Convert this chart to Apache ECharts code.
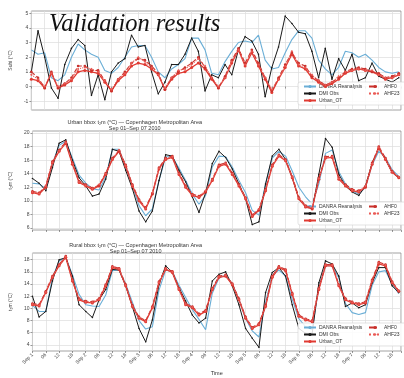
<!DOCTYPE html>
<html>
<head>
<meta charset="utf-8">
<script src="https://cdn.jsdelivr.net/npm/echarts@6/dist/echarts.min.js"></script>
<style>
html, body { margin: 0; padding: 0; background: #fff; }
#main { width: 404px; height: 378px; }
</style>
</head>
<body>
<div id="main"></div>
<script>
// hours since Sep 1 00:00 (3-hourly)
var hours = [0, 3, 6, 9, 12, 15, 18, 21, 24, 27, 30, 33, 36, 39, 42, 45, 48, 51, 54, 57, 60, 63, 66, 69,
    72, 75, 78, 81, 84, 87, 90, 93, 96, 99, 102, 105, 108, 111, 114, 117, 120, 123, 126, 129, 132, 135, 138, 141,
    144, 147, 150, 153, 156, 159, 162, 165];
var dayLabels = ['Sep 1', 'Sep 2', 'Sep 3', 'Sep 4', 'Sep 5', 'Sep 6', 'Sep 7'];
var hourLabels = { 6: '06', 12: '12', 18: '18' };
var seriesNames = ['DANRA Reanalysis', 'DMI Obs', 'Urban_OT', 'AHF0', 'AHF23'];

// panel 1: difference
var danra1 = [2.5, 2.2, 2.3, 0.6, 0.4, 0.8, 2.0, 2.9,  2.5, 2.2, 2.0, 1.1, 0.9, 1.3, 2.0, 2.7,
    2.8, 2.8, 2.0, 1.0, 0.6, 1.2, 1.5, 1.9,  3.3, 3.3, 2.5, 0.9, 0.8, 1.7, 2.4, 3.0,
    3.1, 3.0, 3.5, 1.8, 1.2, 1.3, 2.3, 3.2,  3.8, 3.8, 3.3, 1.8, 1.2, 0.8, 1.3, 2.4,
    2.3, 2.0, 2.2, 1.8, 1.3, 1.0, 0.9, 1.0];
var obs1 = [1.0, 3.8, 2.0, -0.1, -0.8, 1.5, 2.6, 3.2,  2.8, -0.6, 0.8, -0.9, 1.0, 1.6, 1.9, 3.5,
    2.7, 2.8, 1.0, -0.5, 0.3, 1.5, 1.5, 2.2,  3.3, 2.4, -0.3, 0.8, 0.6, 1.5, 0.8, 2.5,
    3.4, 3.1, 2.2, -0.7, 1.3, 2.7, 4.8, 4.3,  3.7, 3.6, 2.4, 0.6, 2.6, 0.5, 1.9, 1.1,
    2.2, 0.4, 0.6, 1.6, 0.7, 0.5, 0.3, 0.6];
var urban1 = [0.5, 0.4, -0.1, 0.9, -0.1, 0.1, 0.4, 1.0,  1.1, 1.0, 0.9, 0.3, -0.3, 0.4, 0.8, 1.4,
    1.6, 1.5, 1.2, 0.8, -0.2, 0.5, 0.9, 1.0,  1.3, 1.6, 1.2, 0.5, -0.1, 0.6, 1.6, 2.5,
    1.4, 2.3, 1.4, 0.5, -0.4, 0.5, 1.3, 2.2,  1.4, 1.2, 0.6, 0.3, 0.0, 0.2, 0.5, 0.9,
    1.1, 1.2, 1.1, 1.0, 0.8, 0.5, 0.6, 0.8];
var ahf0_1 = [1.0, 0.6, -0.1, 1.0, -0.1, 0.2, 0.6, 1.4,  1.4, 1.1, 1.1, 0.4, -0.3, 0.5, 1.0, 1.6,
    1.9, 1.8, 1.4, 0.9, -0.2, 0.6, 1.0, 1.3,  1.6, 2.0, 1.3, 0.6, -0.1, 0.7, 1.8, 2.6,
    1.6, 2.5, 1.6, 0.6, -0.3, 0.6, 1.5, 2.3,  1.6, 1.4, 0.7, 0.4, 0.1, 0.3, 0.6, 1.0,
    1.2, 1.3, 1.2, 1.0, 0.9, 0.6, 0.7, 0.9];
var ahf23_1 = [0.8, 0.5, 0.0, 0.9, 0.0, 0.2, 0.5, 1.2,  1.3, 1.2, 1.0, 0.4, -0.2, 0.5, 0.9, 1.6,
    2.0, 1.7, 1.3, 0.8, -0.1, 0.6, 1.1, 1.2,  1.5, 1.9, 1.4, 0.6, 0.0, 0.6, 1.7, 2.5,
    1.5, 2.4, 1.5, 0.6, -0.2, 0.5, 1.4, 2.4,  1.5, 1.3, 0.8, 0.4, 0.1, 0.3, 0.7, 1.0,
    1.1, 1.2, 1.1, 1.1, 0.8, 0.6, 0.6, 0.8];

// panel 2: urban bbox t2m
var danra2 = [12.6, 12.5, 11.8, 15.5, 18.2, 18.8, 16.3, 13.8,  12.6, 11.8, 11.6, 13.5, 17.6, 17.6, 15.0, 12.2,
    9.3, 7.8, 8.8, 13.0, 16.5, 16.5, 14.8, 13.0,  11.0, 9.5, 10.8, 15.0, 16.6, 16.5, 15.0, 13.0,
    11.2, 8.6, 7.9, 12.5, 16.3, 17.3, 16.6, 14.4,  12.0, 10.6, 9.5, 12.5, 17.0, 17.5, 14.3, 12.5,
    11.5, 11.0, 12.0, 15.3, 17.3, 16.4, 14.6, 13.6];
var obs2 = [13.3, 12.6, 11.5, 14.9, 18.5, 19.0, 16.0, 13.4,  12.2, 10.7, 11.0, 13.2, 17.6, 17.3, 14.5, 11.8,
    8.5, 6.9, 8.5, 13.0, 16.8, 16.6, 14.5, 12.8,  10.6, 8.3, 11.2, 15.5, 17.3, 16.4, 14.7, 12.5,
    10.3, 6.5, 6.9, 12.5, 16.6, 17.6, 16.1, 13.4,  10.3, 9.0, 8.8, 13.9, 19.2, 17.9, 13.9, 12.2,
    11.3, 10.8, 12.2, 15.6, 17.8, 16.1, 14.2, 13.4];
var urban2 = [11.2, 11.0, 12.0, 15.6, 17.3, 18.5, 15.4, 12.7,  12.2, 11.7, 12.2, 13.9, 16.1, 17.3, 15.1, 12.2,
    10.0, 8.8, 11.0, 14.7, 16.1, 16.4, 13.9, 12.0,  10.8, 10.5, 11.3, 13.0, 15.1, 15.4, 13.9, 12.2,
    10.3, 7.7, 8.6, 11.5, 15.1, 16.6, 15.9, 13.4,  10.3, 9.1, 8.8, 13.2, 16.3, 16.4, 13.2, 12.2,
    11.5, 11.3, 12.0, 15.4, 17.8, 16.1, 14.2, 13.4];
var ahf0_2 = [11.4, 11.2, 12.1, 15.8, 17.5, 18.7, 15.6, 12.9,  12.4, 11.9, 12.3, 14.1, 16.3, 17.4, 15.3, 12.4,
    10.2, 9.0, 11.1, 14.9, 16.3, 16.6, 14.1, 12.2,  11.0, 10.7, 11.4, 13.2, 15.3, 15.6, 14.1, 12.4,
    10.5, 7.9, 8.7, 11.7, 15.3, 16.8, 16.1, 13.6,  10.5, 9.3, 8.9, 13.4, 16.5, 16.6, 13.4, 12.4,
    11.7, 11.5, 12.1, 15.6, 18.0, 16.3, 14.4, 13.5];
var ahf23_2 = [11.3, 11.1, 12.2, 15.7, 17.4, 18.6, 15.5, 12.8,  12.3, 11.8, 12.4, 14.0, 16.2, 17.5, 15.2, 12.3,
    10.1, 8.9, 11.2, 14.8, 16.2, 16.5, 14.0, 12.1,  10.9, 10.6, 11.5, 13.1, 15.2, 15.5, 14.0, 12.3,
    10.4, 7.8, 8.8, 11.6, 15.2, 16.7, 16.0, 13.5,  10.4, 9.2, 9.0, 13.3, 16.4, 16.5, 13.3, 12.3,
    11.6, 11.4, 12.2, 15.5, 17.9, 16.2, 14.3, 13.5];

// panel 3: rural bbox t2m
var danra3 = [10.5, 9.5, 9.5, 15.0, 17.8, 18.4, 15.5, 12.3,  10.6, 10.4, 10.3, 12.2, 16.2, 16.3, 14.0, 11.0,
    8.0, 6.6, 7.0, 13.0, 16.3, 16.0, 13.8, 11.8,  9.8, 8.2, 6.5, 12.5, 15.0, 15.5, 14.0, 11.5,
    8.3, 6.3, 5.3, 11.0, 15.4, 16.3, 15.3, 11.5,  8.3, 7.0, 6.5, 13.5, 17.0, 17.0, 15.0, 10.8,
    9.3, 9.0, 9.3, 13.8, 16.0, 16.2, 14.0, 12.4];
var obs3 = [12.0, 8.6, 9.5, 14.5, 18.0, 18.3, 15.3, 10.6,  9.5, 8.5, 11.4, 13.1, 16.4, 16.3, 13.7, 10.3,
    6.7, 4.5, 8.1, 13.9, 17.0, 15.9, 13.4, 11.2,  8.9, 7.6, 8.4, 14.5, 15.6, 16.0, 13.7, 10.6,
    6.7, 5.1, 3.6, 12.6, 15.9, 16.7, 15.3, 10.6,  6.7, 5.9, 5.9, 14.2, 17.8, 17.3, 15.3, 10.3,
    10.9, 10.1, 10.6, 14.2, 16.7, 16.7, 13.7, 12.6];
var urban3 = [10.6, 10.4, 12.6, 15.1, 17.0, 18.4, 14.5, 11.4,  11.0, 10.9, 11.4, 13.7, 16.7, 16.4, 13.7, 10.3,
    8.4, 7.8, 10.1, 14.2, 16.4, 15.9, 13.1, 10.6,  10.1, 8.9, 9.5, 13.1, 15.1, 15.3, 13.9, 11.4,
    8.4, 6.7, 7.3, 10.3, 15.1, 16.7, 16.2, 12.3,  8.7, 8.1, 7.8, 13.1, 17.0, 17.0, 13.7, 11.4,
    10.9, 10.6, 10.9, 14.5, 17.3, 17.0, 14.2, 12.8];
var ahf0_3 = [10.8, 10.6, 12.8, 15.3, 17.2, 18.6, 14.7, 11.6,  11.2, 11.1, 11.6, 13.9, 16.9, 16.6, 13.9, 10.5,
    8.6, 8.0, 10.3, 14.4, 16.6, 16.1, 13.3, 10.8,  10.3, 9.1, 9.7, 13.3, 15.3, 15.5, 14.1, 11.6,
    8.6, 6.9, 7.5, 10.5, 15.3, 16.9, 16.4, 12.5,  8.9, 8.3, 8.0, 13.3, 17.2, 17.2, 13.9, 11.6,
    11.1, 10.8, 11.1, 14.7, 17.6, 17.2, 14.4, 12.9];
var ahf23_3 = [10.7, 10.5, 12.7, 15.2, 17.1, 18.5, 14.6, 11.5,  11.1, 11.0, 11.5, 13.8, 16.8, 16.5, 13.8, 10.4,
    8.5, 7.9, 10.2, 14.3, 16.5, 16.0, 13.2, 10.7,  10.2, 9.0, 9.6, 13.2, 15.2, 15.4, 14.0, 11.5,
    8.5, 6.8, 7.4, 10.4, 15.2, 16.8, 16.3, 12.4,  8.8, 8.2, 7.9, 13.2, 17.1, 17.1, 13.8, 11.5,
    11.0, 10.7, 11.0, 14.6, 17.5, 17.1, 14.3, 12.9];

var yTicks1 = [-1, 0, 1, 2, 3, 4, 5];
var yTicks2 = [6, 8, 10, 12, 14, 16, 18, 20];
var yTicks3 = [4, 6, 8, 10, 12, 14, 16, 18];

var myChart = echarts.init(document.getElementById('main'), null, { renderer: 'canvas' });

var gridTop = [11, 131, 253];
var gridH = [99, 99, 98];
var yRange = [[-1.6, 5.15], [5.7, 20.3], [3.0, 19.1]];
var yTicks = [yTicks1, yTicks2, yTicks3];
var yNames = ['Suhi (°C)', 't₂m (°C)', 't₂m (°C)'];
var panelData = [
    [danra1, obs1, urban1, ahf0_1, ahf23_1],
    [danra2, obs2, urban2, ahf0_2, ahf23_2],
    [danra3, obs3, urban3, ahf0_3, ahf23_3]
];

function pairs(arr) {
    return hours.map(function (h, i) { return [h, arr[i]]; });
}

var grids = [], xAxes = [], yAxes = [], series = [], legends = [];
for (var p = 0; p < 3; p++) {
    grids.push({
        left: 29, right: 3, top: gridTop[p], height: gridH[p],
        show: true, borderColor: '#8c8c8c', borderWidth: 0.8, backgroundColor: '#fff'
    });
    xAxes.push({
        type: 'value', gridIndex: p, min: 0, max: 166, interval: 6,
        name: p === 2 ? 'Time' : '', nameLocation: 'middle', nameGap: 19,
        nameTextStyle: { fontSize: 5.5, color: '#333' },
        axisLine: { show: false },
        axisTick: { show: true, length: 2, lineStyle: { color: '#555', width: 0.6 } },
        axisLabel: {
            show: p === 2, rotate: 45, fontSize: 5, color: '#444', margin: 3,
            formatter: function (v) {
                if (v % 24 === 0) return dayLabels[v / 24] || '';
                return hourLabels[v % 24] || '';
            }
        },
        splitLine: { show: true, lineStyle: { color: '#dcdcdc', width: 0.7 } }
    });
    yAxes.push({
        type: 'value', gridIndex: p, min: yRange[p][0], max: yRange[p][1],
        name: yNames[p], nameLocation: 'middle', nameGap: 15, nameRotate: 90,
        nameTextStyle: { fontSize: 5, color: '#444' },
        axisLine: { show: false },
        axisTick: { show: true, length: 2, customValues: yTicks[p], lineStyle: { color: '#555', width: 0.6 } },
        axisLabel: { fontSize: 5, color: '#444', margin: 3, customValues: yTicks[p] },
        splitLine: { show: true, lineStyle: { color: '#dcdcdc', width: 0.7 } }
    });

    var d = panelData[p];
    series.push({
        name: seriesNames[0], type: 'line', xAxisIndex: p, yAxisIndex: p, data: pairs(d[0]),
        symbol: 'none', lineStyle: { color: '#6aaed6', width: 1.1 }, itemStyle: { color: '#6aaed6' }, z: 2
    });
    series.push({
        name: seriesNames[1], type: 'line', xAxisIndex: p, yAxisIndex: p, data: pairs(d[1]),
        symbol: 'circle', symbolSize: 1.6, lineStyle: { color: '#1a1a1a', width: 1.0 }, itemStyle: { color: '#1a1a1a' }, z: 3
    });
    series.push({
        name: seriesNames[2], type: 'line', xAxisIndex: p, yAxisIndex: p, data: pairs(d[2]),
        symbol: 'circle', symbolSize: 3, lineStyle: { color: '#e03a32', width: 1.3 }, itemStyle: { color: '#e03a32' }, z: 4
    });
    series.push({
        name: seriesNames[3], type: 'line', xAxisIndex: p, yAxisIndex: p, data: pairs(d[3]),
        symbol: 'circle', symbolSize: 2.6, lineStyle: { color: '#c8302b', width: 1.1, type: 'dashed' }, itemStyle: { color: '#c8302b' }, z: 4
    });
    series.push({
        name: seriesNames[4], type: 'line', xAxisIndex: p, yAxisIndex: p, data: pairs(d[4]),
        symbol: 'diamond', symbolSize: 2.6, lineStyle: { color: '#ea5a55', width: 1.1, type: 'dotted' }, itemStyle: { color: '#ea5a55' }, z: 4
    });

    var legTop = gridTop[p] + gridH[p] - 28;
    legends.push({
        left: 298, top: legTop, orient: 'vertical', data: seriesNames.slice(0, 3),
        itemWidth: 12, itemHeight: 4, itemGap: 2,
        padding: [2, 46, 2, 5], backgroundColor: 'rgba(255,255,255,0.85)',
        borderColor: '#d0d0d0', borderWidth: 0.6, borderRadius: 2,
        textStyle: { fontSize: 5, color: '#333', padding: [0, 0, 0, -2] }
    });
    legends.push({
        left: 366, top: legTop, orient: 'vertical', data: seriesNames.slice(3),
        itemWidth: 12, itemHeight: 4, itemGap: 2, padding: [2, 2, 2, 2],
        textStyle: { fontSize: 5, color: '#333', padding: [0, 0, 0, -2] }
    });
}

var option = {
    animation: false,
    backgroundColor: '#fff',
    title: [
        {
            text: 'Urban bbox t₂m (°C) — Copenhagen Metropolitan Area\nSep 01–Sep 07 2010',
            left: 'center', top: 115, textAlign: 'center',
            textStyle: { fontSize: 5.5, fontWeight: 'normal', color: '#333', lineHeight: 5.5 }
        },
        {
            text: 'Rural bbox t₂m (°C) — Copenhagen Metropolitan Area\nSep 01–Sep 07 2010',
            left: 'center', top: 237, textAlign: 'center',
            textStyle: { fontSize: 5.5, fontWeight: 'normal', color: '#333', lineHeight: 6 }
        }
    ],
    grid: grids,
    xAxis: xAxes,
    yAxis: yAxes,
    legend: legends,
    series: series,
    graphic: [{
        type: 'text', left: 49, top: 12, z: 100,
        style: {
            text: 'Validation results',
            font: 'italic 24.5px "Liberation Serif", "DejaVu Serif", serif',
            fill: '#111'
        }
    }]
};
myChart.setOption(option);
</script>
</body>
</html>
